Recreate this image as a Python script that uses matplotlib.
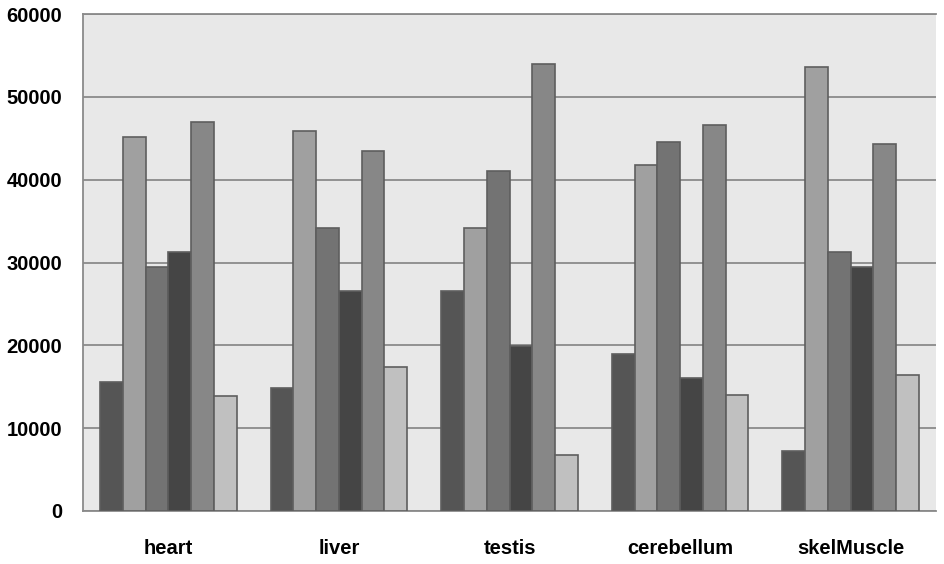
import matplotlib
matplotlib.use("Agg")
import matplotlib.pyplot as plt
import numpy as np

categories = ["heart", "liver", "testis", "cerebellum", "skelMuscle"]
series1 = [15600, 14900, 26500, 18900, 7200]
series2 = [45200, 45900, 34200, 41800, 53600]
series3 = [29500, 34200, 41000, 44600, 31300]
series4 = [31300, 26500, 19900, 16100, 29500]
series5 = [47000, 43500, 54000, 46600, 44300]
series6 = [13900, 17400, 6800, 14000, 16400]
series = [series1, series2, series3, series4, series5, series6]
colors = ["#555555", "#a0a0a0", "#737373", "#454545", "#878787", "#c0c0c0"]
yticks = [0, 10000, 20000, 30000, 40000, 50000, 60000]

fig = plt.figure(figsize=(9.45, 5.64), dpi=100)
ax = fig.add_axes([83/945, 53/564, 853/945, 497/564])
ax.set_facecolor("#e8e8e8")

x = np.arange(len(categories))
n = len(series)
bw = 0.8 / n
for i, (vals, c) in enumerate(zip(series, colors)):
    ax.bar(x - 0.4 + bw * (i + 0.5), vals, width=bw, color=c,
           edgecolor="#5e5e5e", linewidth=1.2, zorder=3)

ax.set_xlim(-0.5, len(categories) - 0.5)
ax.set_ylim(0, 60000)
ax.set_yticks(yticks)
ax.set_yticklabels([str(v) for v in yticks])
ax.set_xticks(x)
ax.set_xticklabels(categories)
ax.grid(axis="y", color="#8a8a8a", linewidth=1.3, zorder=1)
ax.tick_params(axis="both", length=0)
ax.tick_params(axis="y", pad=15)
ax.tick_params(axis="x", pad=20)
for lab in ax.get_yticklabels() + ax.get_xticklabels():
    lab.set_fontfamily("Liberation Sans")
    lab.set_fontweight("bold")
    lab.set_fontsize(14.5)
for s in ["left", "bottom"]:
    ax.spines[s].set_color("#8a8a8a")
    ax.spines[s].set_linewidth(1.3)
ax.spines["top"].set_color("#8a8a8a")
ax.spines["top"].set_linewidth(1.3)
ax.spines["right"].set_visible(False)

fig.savefig("out.png", dpi=100, facecolor="white")
